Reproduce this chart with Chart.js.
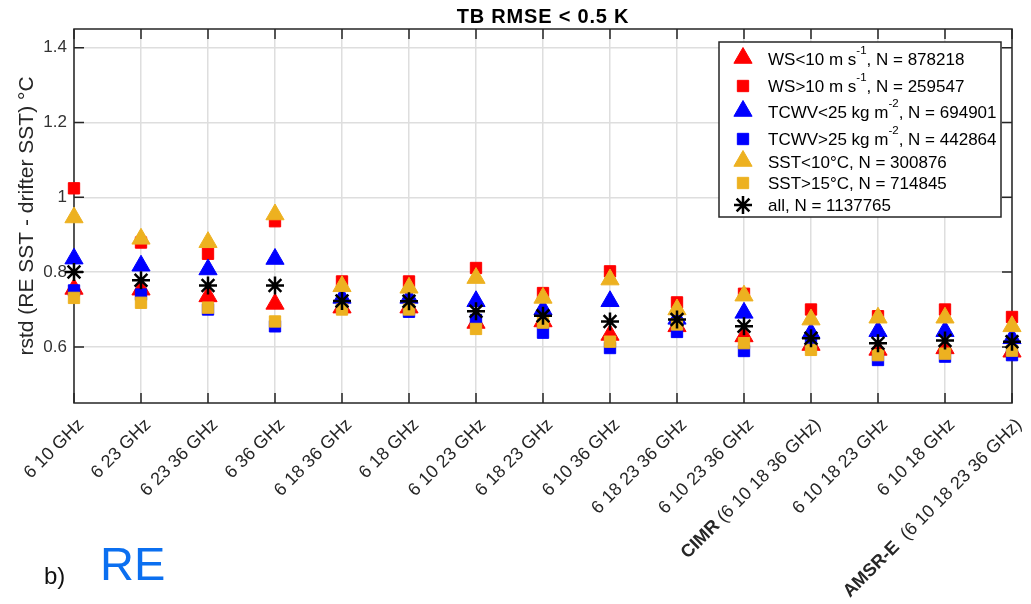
<!DOCTYPE html>
<html>
<head>
<meta charset="utf-8">
<script src="https://cdn.jsdelivr.net/npm/chart.js@4.4.1/dist/chart.umd.min.js"></script>
<style>
  body { margin: 0; background: #fff; }
  #wrap { position: relative; width: 1031px; height: 604px; }
</style>
</head>
<body>
<div id="wrap"><canvas id="chart"></canvas></div>
<script>
// categories (channel combinations)
const categories = [
  '6 10 GHz', '6 23 GHz', '6 23 36 GHz', '6 36 GHz', '6 18 36 GHz', '6 18 GHz',
  '6 10 23 GHz', '6 18 23 GHz', '6 10 36 GHz', '6 18 23 36 GHz', '6 10 23 36 GHz',
  'CIMR (6 10 18 36 GHz)', '6 10 18 23 GHz', '6 10 18 GHz', 'AMSR-E  (6 10 18 23 36 GHz)'
];
const boldPrefixes = ['CIMR', 'AMSR-E'];
const yTicks = [0.6, 0.8, 1, 1.2, 1.4];

// rstd values per subset
const wsLow    = [0.755, 0.753, 0.735, 0.715, 0.705, 0.705, 0.664, 0.668, 0.632, 0.655, 0.628, 0.605, 0.592, 0.596, 0.587];
const wsHigh   = [1.024, 0.879, 0.849, 0.936, 0.775, 0.775, 0.811, 0.744, 0.802, 0.719, 0.742, 0.700, 0.682, 0.700, 0.680];
const tcwvLow  = [0.836, 0.817, 0.807, 0.835, 0.731, 0.731, 0.722, 0.700, 0.722, 0.675, 0.691, 0.637, 0.642, 0.642, 0.623];
const tcwvHigh = [0.751, 0.740, 0.700, 0.655, 0.715, 0.694, 0.672, 0.638, 0.597, 0.640, 0.589, 0.610, 0.565, 0.574, 0.578];
const sstLow   = [0.946, 0.889, 0.880, 0.954, 0.762, 0.758, 0.784, 0.731, 0.780, 0.700, 0.737, 0.673, 0.678, 0.678, 0.655];
const sstHigh  = [0.731, 0.718, 0.705, 0.668, 0.700, 0.700, 0.648, 0.665, 0.614, 0.660, 0.610, 0.592, 0.578, 0.582, 0.590];
const allData  = [0.800, 0.778, 0.764, 0.764, 0.723, 0.722, 0.695, 0.683, 0.668, 0.673, 0.655, 0.623, 0.610, 0.617, 0.614];

const RED = '#ff0000', BLUE = '#0000ff', ORANGE = '#edb120';

function series(label, data, color, style, order) {
  const r = style === 'triangle' ? 10.5 : style === 'rect' ? 8 : 9;
  return {
    label, data, order,
    showLine: false,
    pointStyle: style,
    pointRadius: r,
    pointHoverRadius: r,
    backgroundColor: color,
    borderColor: color,
    pointBorderWidth: style === 'star' ? 2.5 : 1,
    clip: false
  };
}

const datasets = [
  series('WS<10 m s^{-1}, N = 878218', wsLow, RED, 'triangle', 7),
  series('WS>10 m s^{-1}, N = 259547', wsHigh, RED, 'rect', 6),
  series('TCWV<25 kg m^{-2}, N = 694901', tcwvLow, BLUE, 'triangle', 5),
  series('TCWV>25 kg m^{-2}, N = 442864', tcwvHigh, BLUE, 'rect', 4),
  series('SST<10°C, N = 300876', sstLow, ORANGE, 'triangle', 3),
  series('SST>15°C, N = 714845', sstHigh, ORANGE, 'rect', 2),
  series('all, N = 1137765', allData, '#000000', 'star', 1)
];

const FONT = "'Liberation Sans', Arial, sans-serif";
const AXIS = '#262626';

// box, inner ticks, title, rotated x labels, legend, panel tag
const decor = {
  id: 'decor',
  beforeDatasetsDraw(chart) {
    const { ctx, chartArea: a, scales: { x, y } } = chart;
    ctx.save();
    ctx.strokeStyle = AXIS;
    ctx.lineWidth = 1.5;
    ctx.strokeRect(a.left, a.top, a.right - a.left, a.bottom - a.top);
    ctx.beginPath();
    categories.forEach((c, i) => {
      const px = x.getPixelForTick(i);
      ctx.moveTo(px, a.bottom); ctx.lineTo(px, a.bottom - 10);
      ctx.moveTo(px, a.top); ctx.lineTo(px, a.top + 10);
    });
    yTicks.forEach(v => {
      const py = y.getPixelForValue(v);
      ctx.moveTo(a.left, py); ctx.lineTo(a.left + 10, py);
      ctx.moveTo(a.right, py); ctx.lineTo(a.right - 10, py);
    });
    ctx.stroke();
    ctx.restore();
  },
  afterDraw(chart) {
    const { ctx, chartArea: a, scales: { x } } = chart;
    ctx.save();

    // title, centred over the axes
    ctx.fillStyle = '#000';
    ctx.font = 'bold 20px ' + FONT;
    ctx.letterSpacing = '0.8px';
    ctx.textAlign = 'center';
    ctx.textBaseline = 'middle';
    ctx.fillText('TB RMSE < 0.5 K', (a.left + a.right) / 2, 17);
    ctx.letterSpacing = '0px';

    // x tick labels, rotated 45 degrees
    ctx.fillStyle = AXIS;
    ctx.textAlign = 'right';
    ctx.textBaseline = 'middle';
    categories.forEach((c, i) => {
      const px = x.getPixelForTick(i);
      ctx.save();
      ctx.translate(px + 7, a.bottom + 19);
      ctx.rotate(-Math.PI / 4);
      const pre = boldPrefixes.find(p => c.startsWith(p));
      const rest = pre ? c.slice(pre.length) : c;
      ctx.font = '18px ' + FONT;
      ctx.fillText(rest, 0, 0);
      if (pre) {
        const w = ctx.measureText(rest).width;
        ctx.font = 'bold 18px ' + FONT;
        ctx.fillText(pre, -w, 0);
      }
      ctx.restore();
    });

    // legend
    const lx = 719, ly = 42, lw = 282, lh = 175;
    ctx.fillStyle = '#fff';
    ctx.fillRect(lx, ly, lw, lh);
    ctx.strokeStyle = AXIS;
    ctx.lineWidth = 1.5;
    ctx.strokeRect(lx, ly, lw, lh);
    const rows = [59, 86, 112, 139, 162, 183, 205];
    chart.data.datasets.forEach((ds, i) => {
      const yy = rows[i];
      ctx.fillStyle = ds.backgroundColor;
      ctx.strokeStyle = ds.borderColor;
      ctx.lineWidth = ds.pointBorderWidth;
      Chart.helpers.drawPoint(ctx, {
        pointStyle: ds.pointStyle, radius: ds.pointRadius, rotation: 0, borderWidth: ds.pointBorderWidth
      }, 743, ds.pointStyle === 'triangle' ? yy - 1 : yy);
      // label with optional superscript
      ctx.fillStyle = '#000';
      ctx.textAlign = 'left';
      ctx.textBaseline = 'middle';
      let tx = 768;
      const parts = ds.label.split(/\^\{|\}/);
      parts.forEach((p, k) => {
        const sup = k % 2 === 1;
        ctx.font = (sup ? '11.5px ' : '17px ') + FONT;
        ctx.fillText(p, tx, sup ? yy - 8 : yy + 1);
        tx += ctx.measureText(p).width;
      });
    });

    // panel tag
    ctx.textAlign = 'left';
    ctx.textBaseline = 'alphabetic';
    ctx.fillStyle = '#111';
    ctx.font = '24px ' + FONT;
    ctx.fillText('b)', 44, 584);
    ctx.fillStyle = '#0b6ff0';
    ctx.font = '47px ' + FONT;
    ctx.fillText('RE', 100, 580);
    ctx.restore();
  }
};

new Chart(document.getElementById('chart'), {
  type: 'line',
  data: { labels: categories, datasets },
  plugins: [decor],
  options: {
    responsive: true,
    maintainAspectRatio: false,
    animation: false,
    layout: { padding: { left: 0, right: 19, top: 29, bottom: 0 } },
    plugins: {
      legend: { display: false },
      tooltip: { enabled: false },
      title: { display: false }
    },
    scales: {
      x: {
        type: 'category',
        offset: false,
        grid: { color: '#dedede', lineWidth: 1.5, drawTicks: false },
        border: { display: false },
        ticks: { display: false },
        afterFit(s) { s.height = 201; }
      },
      y: {
        min: 0.45,
        max: 1.45,
        afterBuildTicks(s) { s.ticks = yTicks.map(v => ({ value: v })); },
        grid: { color: '#dedede', lineWidth: 1.5, drawTicks: false },
        border: { display: false },
        ticks: {
          color: '#333',
          padding: 7,
          font: { family: FONT, size: 17 },
          callback: v => String(v)
        },
        title: {
          display: true,
          text: 'rstd (RE SST - drifter SST) °C',
          color: AXIS,
          font: { family: FONT, size: 21 },
          padding: { top: 15, bottom: 0 }
        },
        afterFit(s) { s.width = 74; }
      }
    }
  }
});
</script>
</body>
</html>
